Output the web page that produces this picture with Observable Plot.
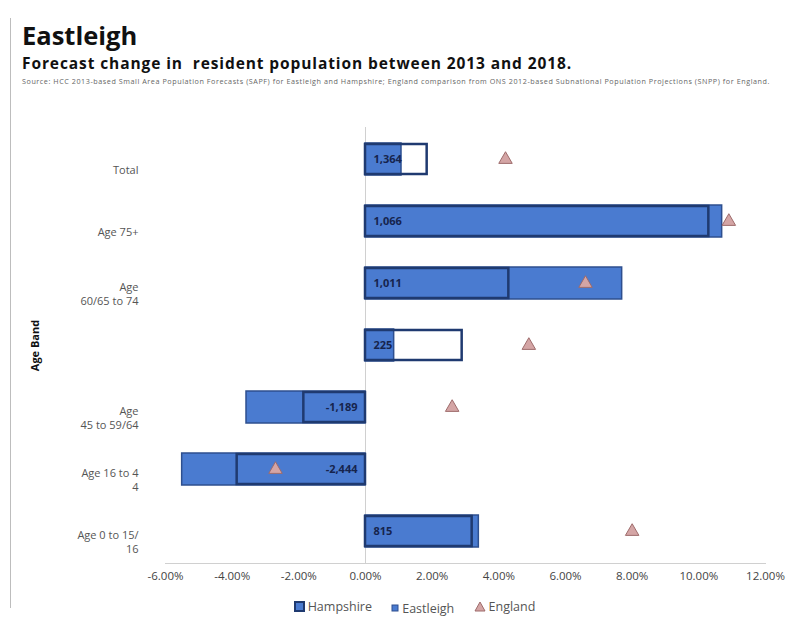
<!DOCTYPE html>
<html>
<head>
<meta charset="utf-8">
<script src="https://cdn.jsdelivr.net/npm/d3@7"></script>
<script src="https://cdn.jsdelivr.net/npm/@observablehq/plot@0.6"></script>
<style>
  html, body { margin: 0; padding: 0; background: #fff; }
  body { width: 793px; height: 628px; position: relative; overflow: hidden; font-family: "Open Sans", "Liberation Sans", sans-serif; }
  #edge { position: absolute; left: 10px; top: 18px; width: 1px; height: 590px; background: #bdbdbd; }
  #title { position: absolute; left: 22px; top: 21px; font-size: 25.5px; line-height: 1.1; font-weight: 700; color: #111; }
  #subtitle { position: absolute; left: 22px; top: 55px; font-size: 15.5px; line-height: 1.15; font-weight: 700; color: #111; white-space: nowrap; letter-spacing: 0.9px; }
  #source { position: absolute; left: 22px; top: 77px; font-size: 7.2px; line-height: 1.2; color: #666; white-space: nowrap; letter-spacing: 0.56px; }
  #chart { position: absolute; left: 0; top: 120px; }
  #legend { position: absolute; top: 598px; left: 0; width: 793px; text-align: center; font-size: 12.5px; color: #555; padding-left: 36px; box-sizing: border-box; }
  #legend span.item { display: inline-flex; align-items: center; margin: 0 8px; }
  #legend svg { margin-right: 3px; }
</style>
</head>
<body>
<div id="edge"></div>
<div id="title">Eastleigh</div>
<div id="subtitle">Forecast change in&nbsp; resident population between 2013 and 2018.</div>
<div id="source">Source: HCC 2013-based Small Area Population Forecasts (SAPF) for Eastleigh and Hampshire; England comparison from ONS 2012-based Subnational Population Projections (SNPP) for England.</div>
<div id="chart"></div>
<div id="legend">
  <span class="item"><svg width="11" height="11"><rect x="1" y="1" width="9" height="9" fill="#4a7bd0" stroke="#1f3a70" stroke-width="2"/></svg>Hampshire</span>
  <span class="item"><svg width="8" height="8"><rect x="1" y="1" width="6" height="6" fill="#4a7bd0" stroke="#2e4f8f" stroke-width="1"/></svg>Eastleigh</span>
  <span class="item"><svg width="12" height="11"><path d="M6,1 L11,10 L1,10 Z" fill="#d4a5a5" stroke="#9e6b6b" stroke-width="1"/></svg>England</span>
</div>
<script>
// ---- data ----
const ageBands = ["Total", "Age 75+", "Age 60/65 to 74", "Band 4", "Age 45 to 59/64", "Age 16 to 44", "Age 0 to 15/16"];
const tickLabels = ["Total", "Age 75+", "Age\n60/65 to 74", "", "Age\n45 to 59/64", "Age 16 to 4\n4", "Age 0 to 15/\n16"];
const hampshire = [1.85, 10.3, 4.3, 2.9, -1.85, -3.85, 3.2];
const eastleigh = [1.08, 10.7, 7.7, 0.86, -3.57, -5.5, 3.4];
const england = [4.2, 10.9, 6.6, 4.9, 2.6, -2.7, 8.0];
const eastleighLabels = ["1,364", "1,066", "1,011", "225", "-1,189", "-2,444", "815"];
const xTicks = [-6, -4, -2, 0, 2, 4, 6, 8, 10, 12];

const rows = ageBands.map((band, i) => ({
  band,
  label: tickLabels[i],
  hampshire: hampshire[i],
  eastleigh: eastleigh[i],
  england: england[i],
  text: eastleighLabels[i]
}));
const labelOf = new Map(rows.map(d => [d.band, d.label]));
const posRows = rows.filter(d => d.eastleigh >= 0);
const negRows = rows.filter(d => d.eastleigh < 0);

const chart = Plot.plot({
  width: 793,
  height: 473,
  marginLeft: 165,
  marginRight: 28,
  marginTop: 7,
  marginBottom: 30,
  style: { fontFamily: "'Open Sans', 'Liberation Sans', sans-serif", background: "transparent" },
  x: { domain: [-6, 12] },
  y: { domain: ageBands, paddingInner: 0.48, paddingOuter: 0.24 },
  marks: [
    Plot.frame({ anchor: "bottom", stroke: "#d0d0d0" }),
    Plot.ruleX([0], { stroke: "#d0d0d0" }),
    Plot.barX(rows, { x: "eastleigh", y: "band", fill: "#4a7bd0", stroke: "#2e4f8f", strokeWidth: 1.5 }),
    Plot.barX(rows, { x: "hampshire", y: "band", fill: "none", stroke: "#1f3a70", strokeWidth: 2.5, insetTop: 1, insetBottom: 1 }),
    Plot.text(posRows, { x: 0, y: "band", text: "text", textAnchor: "start", dx: 8, fill: "#16244d", fontWeight: "bold", fontSize: 11 }),
    Plot.text(negRows, { x: 0, y: "band", text: "text", textAnchor: "end", dx: -8, fill: "#16244d", fontWeight: "bold", fontSize: 11 }),
    Plot.dot(rows, { x: "england", y: "band", symbol: "triangle", r: 5, fill: "#d4a5a5", stroke: "#9e6b6b", strokeWidth: 1 }),
    Plot.axisX({ ticks: xTicks, tickFormat: d => d.toFixed(2) + "%", tickSize: 0, tickPadding: 8, fontSize: 11.5, color: "#444", label: null }),
    Plot.axisY({ tickFormat: d => labelOf.get(d), tickSize: 0, tickPadding: 27, fontSize: 11, lineHeight: 1.25, color: "#555", dy: 10, label: null }),
    Plot.text(["Age Band"], { frameAnchor: "left", textAnchor: "middle", rotate: -90, dx: -130, fontWeight: "bold", fontSize: 11, fill: "#111" })
  ]
});

document.getElementById("chart").appendChild(chart);
</script>
</body>
</html>
